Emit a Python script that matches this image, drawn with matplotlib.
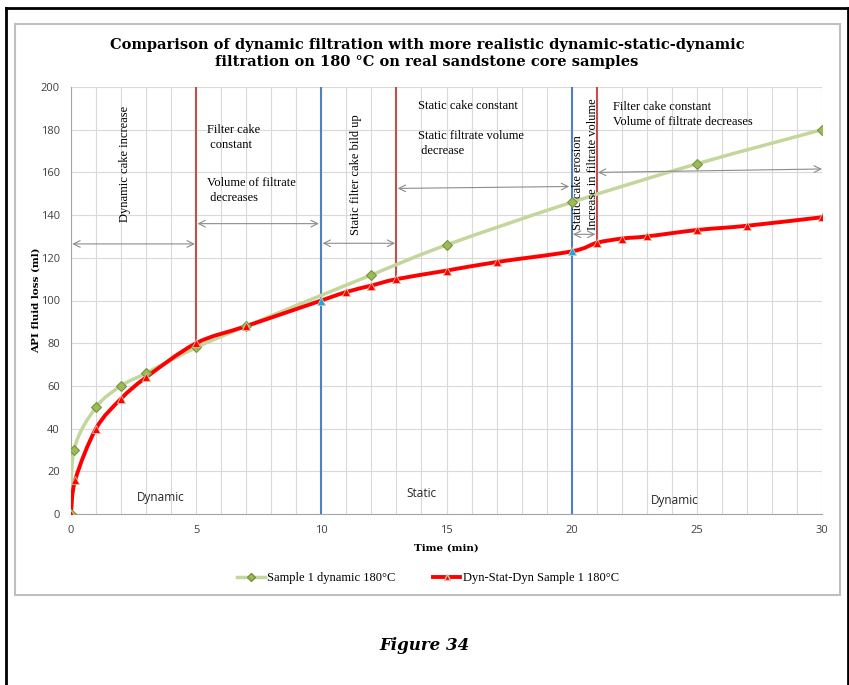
import matplotlib.pyplot as plt
import numpy as np
from matplotlib.path import Path
from matplotlib.patches import PathPatch, Rectangle
from matplotlib.lines import Line2D

# data
time_dyn = [0, 0.12, 1, 2, 3, 5, 7, 12, 15, 20, 25, 30]
loss_dyn = [0, 30, 50, 60, 66, 78, 88, 112, 126, 146, 164, 180]

time_dsd = [0, 0.17, 1, 2, 3, 5, 7, 10, 11, 12, 13, 15, 17, 20, 21, 22, 23, 25, 27, 30]
loss_dsd = [0, 16, 40, 54, 64, 80, 88, 100, 104, 107, 110, 114, 118, 123, 127, 129, 130, 133, 135, 139]

switch_static = [10, 20]          # blue lines
phase_marks = [5, 13, 21]         # red lines, start at the curve
phase_marks_y = [80, 110, 127]

# double arrows: (x0, x1, y0, y1)
arrow_x0 = [0.05, 5.05, 10.05, 13.05, 20.05, 21.05]
arrow_x1 = [4.95, 9.9, 12.95, 19.9, 20.95, 30]
arrow_y0 = [126.5, 136, 126.8, 152.5, 131, 160]
arrow_y1 = [126.5, 136, 126.8, 153.4, 131, 161.6]

title = ('Comparison of dynamic filtration with more realistic dynamic-static-dynamic\n'
         'filtration on 180 \u00b0C on real sandstone core samples')

W, H = 849, 685
fig = plt.figure(figsize=(W / 100, H / 100), dpi=100)
ax = fig.add_axes([71 / W, 171 / H, 751 / W, 427 / H])
ax.set_xlim(0, 30)
ax.set_ylim(0, 200)

sx, sy = 751 / 30, 427 / 200


def smooth_path(xs, ys):
    # Excel-like smoothed line: cardinal spline drawn as cubic beziers
    p = np.column_stack([np.array(xs) * sx, np.array(ys) * sy])
    pts = np.vstack([p[0], p, p[-1]])
    verts = [p[0]]
    codes = [Path.MOVETO]
    for i in range(1, len(pts) - 2):
        c1 = pts[i] + (pts[i + 1] - pts[i - 1]) / 6
        c2 = pts[i + 1] - (pts[i + 2] - pts[i]) / 6
        verts += [c1, c2, pts[i + 1]]
        codes += [Path.CURVE4] * 3
    verts = np.array(verts) / [sx, sy]
    return Path(verts, codes)


ax.set_xticks(range(0, 31, 5))
ax.set_xticks(range(0, 31), minor=True)
ax.set_yticks(range(0, 201, 20))
ax.grid(True, which='both', color='#D9D9D9', lw=0.8)
ax.set_axisbelow(True)
ax.tick_params(which='both', length=0, labelsize=8, colors='#404040', pad=8)
for lab in ax.get_xticklabels() + ax.get_yticklabels():
    lab.set_family('Open Sans')
for s in ['top', 'right']:
    ax.spines[s].set_visible(False)
for s in ['left', 'bottom']:
    ax.spines[s].set_color('#A6A6A6')

for x in switch_static:
    ax.plot([x, x], [0, 200], color='#4F81BD', lw=1.5, zorder=2)
for x, y in zip(phase_marks, phase_marks_y):
    ax.plot([x, x], [y, 200], color='#C0504D', lw=1.5, zorder=2)

ax.add_patch(PathPatch(smooth_path(time_dyn, loss_dyn), fc='none', ec='#C3D69B', lw=2.5, zorder=3))
ax.plot(time_dyn, loss_dyn, ls='none', marker='D', ms=5, mfc='#9BBB59', mec='#77933C', mew=0.8, zorder=5)

ax.add_patch(PathPatch(smooth_path(time_dsd, loss_dsd), fc='none', ec='#FF0000', lw=2.8, zorder=4))
mfc = ['#00B0F0' if t in switch_static else '#FF0000' for t in time_dsd]
for t, v, c in zip(time_dsd, loss_dsd, mfc):
    ax.plot(t, v, ls='none', marker='^', ms=6, mfc=c, mec='#D9C3A5', mew=0.6, zorder=6)

for x0, x1, y0, y1 in zip(arrow_x0, arrow_x1, arrow_y0, arrow_y1):
    ax.annotate('', xy=(x1, y1), xytext=(x0, y0),
                arrowprops=dict(arrowstyle='<->', color='#8C8C8C', lw=0.8,
                                shrinkA=0, shrinkB=0, mutation_scale=12), zorder=3)

serif = 'Liberation Serif'
ts = 9
ax.text(2.15, 164, 'Dynamic cake increase', rotation=90, ha='center', va='center', family=serif, fontsize=ts)
ax.text(5.45, 176.5, 'Filter cake\n constant', ha='left', va='center', family=serif, fontsize=ts, linespacing=1.3)
ax.text(5.45, 151.5, 'Volume of filtrate\n decreases', ha='left', va='center', family=serif, fontsize=ts, linespacing=1.3)
ax.text(11.4, 158.8, 'Static filter cake bild up', rotation=90, ha='center', va='center', family=serif, fontsize=ts)
ax.text(13.85, 191, 'Static cake constant', ha='left', va='center', family=serif, fontsize=ts)
ax.text(13.85, 173.5, 'Static filtrate volume\n decrease', ha='left', va='center', family=serif, fontsize=ts, linespacing=1.3)
ax.text(20.25, 155, 'Static cake erosion', rotation=90, ha='center', va='center', family=serif, fontsize=ts)
ax.text(20.85, 163.7, 'Increase in filtrate volume', rotation=90, ha='center', va='center', family=serif, fontsize=ts)
ax.text(21.65, 187, 'Filter cake constant\nVolume of filtrate decreases', ha='left', va='center',
        family=serif, fontsize=ts, linespacing=1.3)

ax.text(3.58, 7.6, 'Dynamic', ha='center', va='center', family='Open Sans', fontsize=8.5, color='#262626')
ax.text(14.0, 9.4, 'Static', ha='center', va='center', family='Open Sans', fontsize=8.5, color='#262626')
ax.text(24.1, 6.5, 'Dynamic', ha='center', va='center', family='Open Sans', fontsize=8.5, color='#262626')

fig.text(427 / W, 1 - 53.5 / H, title, ha='center', va='center', family='DejaVu Serif',
         fontweight='bold', fontsize=10.5, linespacing=1.25)
fig.text(36 / W, 1 - 300 / H, 'API fluid loss (ml)', rotation=90, ha='center', va='center',
         family='DejaVu Serif', fontweight='bold', fontsize=7.5)
fig.text(446 / W, 1 - 548 / H, 'Time (min)', ha='center', va='center',
         family='DejaVu Serif', fontweight='bold', fontsize=7.5)

handles = [
    Line2D([], [], color='#C3D69B', lw=2.5, marker='D', ms=4, mfc='#9BBB59', mec='#77933C'),
    Line2D([], [], color='#FF0000', lw=2.8, marker='^', ms=5, mfc='#FF0000', mec='#D9C3A5'),
]
fig.legend(handles, ['Sample 1 dynamic 180\u00b0C', 'Dyn-Stat-Dyn Sample 1 180\u00b0C'],
           loc='center', bbox_to_anchor=(428 / W, 1 - 578 / H), ncol=2, frameon=False,
           prop={'family': serif, 'size': 9}, handlelength=2.2, handletextpad=0.2,
           columnspacing=3)

fig.text(425 / W, 1 - 645 / H, 'Figure 34', ha='center', va='center', family='DejaVu Serif',
         fontweight='bold', style='italic', fontsize=12)

# chart frame and page border
fig.add_artist(Rectangle((15 / W, 1 - 595 / H), 825 / W, 571 / H, transform=fig.transFigure,
                         fill=False, ec='#BFBFBF', lw=1.5))
fig.add_artist(Line2D([6 / W, 6 / W], [0, 1 - 7.5 / H], transform=fig.transFigure, color='black', lw=2))
fig.add_artist(Line2D([6 / W, 847.5 / W], [1 - 7.5 / H, 1 - 7.5 / H], transform=fig.transFigure, color='black', lw=2))
fig.add_artist(Line2D([847.5 / W, 847.5 / W], [0, 1 - 7.5 / H], transform=fig.transFigure, color='black', lw=2))

fig.savefig('out.png', dpi=100)
